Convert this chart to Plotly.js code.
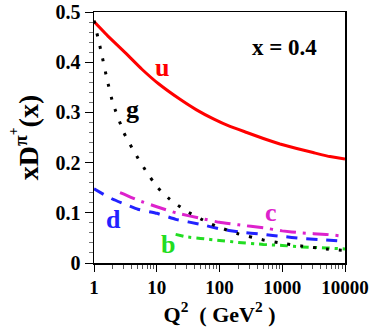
<!DOCTYPE html>
<html>
<head>
<meta charset="utf-8">
<script src="https://cdn.plot.ly/plotly-3.0.1.min.js"></script>
<style>
  html, body { margin: 0; padding: 0; background: #fff; }
  #chart { width: 374px; height: 332px; }
</style>
</head>
<body>
<div id="chart"></div>
<script>
// Q^2 grids (GeV^2) and xD(x) values, x = 0.4
const q2U = [1, 1.7, 3.2, 5.8, 10.7, 23.5, 43, 80, 147, 272, 500, 920, 1700, 3100, 5750, 10000];
const dU  = [0.481, 0.451, 0.418, 0.386, 0.357, 0.326, 0.305, 0.287, 0.272, 0.260, 0.248, 0.237, 0.228, 0.220, 0.212, 0.207];

const q2G = [1, 1.15, 1.3, 1.6, 2, 3, 4, 5, 7, 10, 15, 20, 30, 50, 70, 100, 200, 500, 1000, 2000, 5000, 10000];
const dG  = [0.483, 0.450, 0.421, 0.368, 0.318, 0.259, 0.230, 0.209, 0.180, 0.152, 0.130, 0.118, 0.103, 0.088, 0.079, 0.071, 0.058, 0.046, 0.039, 0.034, 0.028, 0.025];

const q2D = [1, 1.5, 2, 3, 5, 10, 20, 50, 100, 200, 500, 1000, 2000, 5000, 10000];
const dD  = [0.148, 0.135, 0.127, 0.118, 0.107, 0.099, 0.087, 0.077, 0.068, 0.062, 0.057, 0.053, 0.049, 0.046, 0.043];

const q2C = [2.6, 3, 5, 10, 20, 50, 100, 200, 500, 1000, 2000, 5000, 10000];
const dC  = [0.140, 0.137, 0.125, 0.112, 0.100, 0.089, 0.081, 0.076, 0.070, 0.064, 0.060, 0.057, 0.053];

const q2B = [20, 30, 50, 100, 200, 500, 1000, 2000, 5000, 10000];
const dB  = [0.057, 0.052, 0.049, 0.045, 0.041, 0.037, 0.035, 0.032, 0.030, 0.028];

const xTickVals = [1, 10, 100, 1000, 10000];
const xTickText = ['1', '10', '100', '1000', '10000'];

const serif = 'Times New Roman, Liberation Serif, DejaVu Serif, serif';

function curve(x, y, color, dash) {
    return {
        x: x, y: y, mode: 'lines', type: 'scatter',
        line: { color: color, width: 3, dash: dash, shape: 'spline', smoothing: 0.3 },
        hoverinfo: 'skip'
    };
}

const traces = [
    curve(q2U, dU, '#ff0000', 'solid'),
    curve(q2D, dD, '#2222ff', '11px,9px'),
    curve(q2C, dC, '#dd22cc', '16px,7px,3px,7px'),
    curve(q2B, dB, '#22dd22', '8px,5px,3px,5px'),
    curve(q2G, dG, '#000000', '3px,10px')
];

function label(text, q2, y, color, size) {
    return {
        x: Math.log10(q2), y: y, xref: 'x', yref: 'y', text: '<b>' + text + '</b>', showarrow: false,
        font: { family: serif, size: size || 26, color: color }
    };
}

const layout = {
    width: 374, height: 332,
    margin: { l: 94, r: 29, t: 12, b: 69 },
    paper_bgcolor: '#fff', plot_bgcolor: '#fff',
    showlegend: false,
    font: { family: serif },
    xaxis: {
        type: 'log', range: [0, 4],
        tickmode: 'array', tickvals: xTickVals, ticktext: xTickText.map(t => '<b>' + t + '</b>'),
        ticks: 'outside', ticklen: 7, tickwidth: 1, tickcolor: '#000',
        minor: { ticks: 'outside', ticklen: 4, tickcolor: '#555', dtick: 'D1', showgrid: false },
        showline: true, linecolor: '#000', linewidth: 1.5, mirror: true,
        showgrid: false, zeroline: false,
        tickfont: { family: serif, size: 19, color: '#000' },
        title: { text: '<b>Q<sup>2</sup>  ( GeV<sup>2</sup> )</b>', standoff: 3,
                 font: { family: serif, size: 22, color: '#000' } }
    },
    yaxis: {
        range: [0, 0.5], dtick: 0.1,
        tickprefix: '<b>', ticksuffix: '</b>',
        ticks: 'outside', ticklen: 8, tickwidth: 1, tickcolor: '#000',
        minor: { ticks: 'outside', ticklen: 4, tickcolor: '#777', dtick: 0.02, showgrid: false },
        showline: true, linecolor: '#000', linewidth: 1.5, mirror: true,
        showgrid: false, zeroline: false,
        tickfont: { family: serif, size: 20, color: '#000' },
        title: { text: '<b>xD<sup>π<sup>+</sup></sup>(x)</b>', standoff: 8,
                 font: { family: serif, size: 28, color: '#000' } }
    },
    annotations: [
        label('u', 12, 0.390, '#ff0000'),
        label('g', 4.1, 0.305, '#000000'),
        label('d', 2.05, 0.086, '#2222ff'),
        label('b', 15, 0.036, '#22dd22'),
        label('c', 660, 0.100, '#dd22cc'),
        label('x = 0.4', 1080, 0.429, '#000000', 23)
    ]
};

Plotly.newPlot('chart', traces, layout, { staticPlot: true, displayModeBar: false });
</script>
</body>
</html>
